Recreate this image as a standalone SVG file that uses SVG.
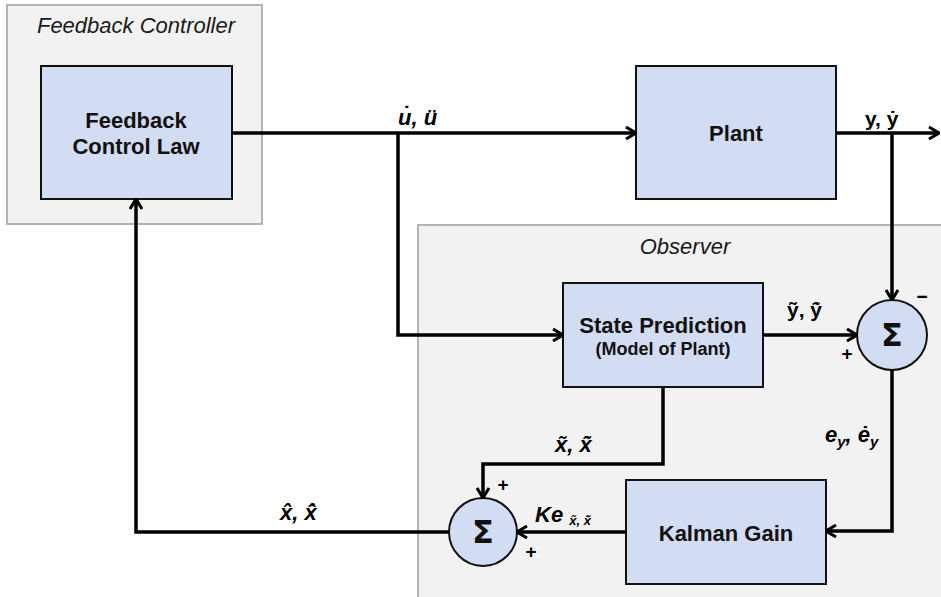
<svg xmlns="http://www.w3.org/2000/svg" width="941" height="597" viewBox="0 0 941 597">
  <style>
    .grp { fill: #f2f2f2; stroke: #b3b3b3; stroke-width: 2; }
    .blk { fill: #d2dcf3; stroke: #111; stroke-width: 2; }
    .wire { fill: none; stroke: #000; stroke-width: 3.5; marker-end: url(#arr); }
    .ttl { font-family: "Liberation Sans", Arial, sans-serif; font-style: italic; font-size: 22px; fill: #1a1a1a; text-anchor: middle; }
    .lbl { font-family: "Liberation Sans", Arial, sans-serif; font-weight: bold; font-size: 22px; fill: #111; text-anchor: middle; }
    .sub { font-family: "Liberation Sans", Arial, sans-serif; font-weight: bold; font-size: 18px; fill: #111; text-anchor: middle; }
    .sig { font-family: "Liberation Sans", Arial, sans-serif; font-weight: bold; font-size: 21px; fill: #000; }
    .sigi { font-family: "Liberation Sans", Arial, sans-serif; font-weight: bold; font-style: italic; font-size: 22px; fill: #000; }
    .sgn { font-family: "Liberation Sans", Arial, sans-serif; font-weight: bold; font-size: 19px; fill: #000; text-anchor: middle; }
    .sum { font-family: "DejaVu Sans", sans-serif; font-weight: bold; font-size: 32px; fill: #111; text-anchor: middle; }
  </style>
  <defs>
    <marker id="arr" viewBox="0 0 12 14" refX="11" refY="7" markerWidth="12" markerHeight="14" markerUnits="userSpaceOnUse" orient="auto">
      <path d="M1,1 L11,7 L1,13" fill="none" stroke="#000" stroke-width="3"/>
    </marker>
  </defs>

  <rect width="941" height="597" fill="#fff"/>

  <!-- grouping panels -->
  <g id="feedback-controller">
    <rect class="grp" x="7" y="5" width="255" height="219"/>
    <text class="ttl" x="136" y="33">Feedback Controller</text>
  </g>
  <g id="observer">
    <rect class="grp" x="418" y="225" width="530" height="380"/>
    <text class="ttl" x="685" y="254">Observer</text>
  </g>

  <!-- blocks -->
  <g id="control-law">
    <rect class="blk" x="41" y="66" width="191" height="133"/>
    <text class="lbl" x="136" y="128">Feedback</text>
    <text class="lbl" x="136" y="154">Control Law</text>
  </g>
  <g id="plant">
    <rect class="blk" x="636" y="66" width="200" height="133"/>
    <text class="lbl" x="736" y="141">Plant</text>
  </g>
  <g id="state-prediction">
    <rect class="blk" x="563" y="283" width="200" height="104"/>
    <text class="lbl" x="663" y="333">State Prediction</text>
    <text class="sub" x="663" y="355">(Model of Plant)</text>
  </g>
  <g id="kalman-gain">
    <rect class="blk" x="626" y="480" width="200" height="104"/>
    <text class="lbl" x="726" y="541">Kalman Gain</text>
  </g>
  <g id="sum-error">
    <circle class="blk" cx="892" cy="335" r="35"/>
    <text class="sum" x="892" y="346">Σ</text>
  </g>
  <g id="sum-estimate">
    <circle class="blk" cx="483" cy="532" r="34"/>
    <text class="sum" x="483" y="543">Σ</text>
  </g>

  <!-- connectors -->
  <g id="connectors">
    <path class="wire" d="M232,133 H636"/>
    <path class="wire" d="M398,133 V335 H563"/>
    <path class="wire" d="M836,133 H939"/>
    <path class="wire" d="M892,133 V300"/>
    <path class="wire" d="M763,335 H857"/>
    <path class="wire" d="M892,370 V531 H826"/>
    <path class="wire" d="M626,532 H517"/>
    <path class="wire" d="M663,387 V464 H483 V498"/>
    <path class="wire" d="M449,532 H136 V199"/>
  </g>

  <!-- signal labels -->
  <g id="signal-labels">
    <text class="sigi" x="398" y="125">u̇, ü</text>
    <text class="sig" x="865" y="126" font-size="22">y, ẏ</text>
    <text class="sig" x="787" y="317">ỹ, ẏ̃</text>
    <text class="sigi" x="555" y="452">x̃, ẋ̃</text>
    <text class="sigi" x="280" y="520">x̂, ẋ̂</text>
    <text class="sigi" x="825" y="442">e<tspan font-size="15" dy="5">y</tspan><tspan dy="-5">, ė</tspan><tspan font-size="15" dy="5">y</tspan></text>
    <text class="sigi" x="535" y="522" font-size="21">Ke <tspan font-size="13" dy="3">x̃, ẋ̃</tspan></text>

    <!-- summing-junction signs -->
    <text class="sgn" x="922" y="303" font-size="26">−</text>
    <text class="sgn" x="847" y="360">+</text>
    <text class="sgn" x="503" y="491">+</text>
    <text class="sgn" x="531" y="558">+</text>
  </g>
</svg>
